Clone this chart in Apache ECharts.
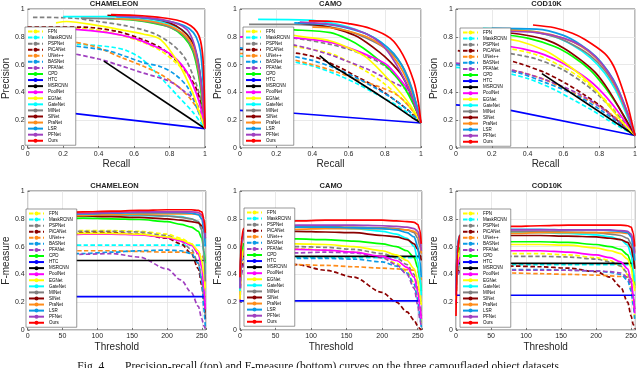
<!DOCTYPE html>
<html><head><meta charset="utf-8">
<script src="https://cdn.jsdelivr.net/npm/echarts@6/dist/echarts.min.js"></script>
<style>html,body{margin:0;padding:0;background:#fff}#c{width:640px;height:368px}</style>
</head><body><div id="c"></div>
<script>
const methods = ['FPN','MaskRCNN','PSPNet','PiCANet','UNet++','BASNet','PFANet','CPD','HTC','MSRCNN','PoolNet','EGNet','GateNet','MINet','SINet','PraNet','LSR','PFNet','Ours'];
const colors = ['#ffff00','#00ffff','#808080','#8b0000','#ff8c1a','#0a9ae6','#a040c0','#00ff00','#0000ff','#000000','#ff00ff','#ffff00','#00ffff','#808080','#8b0000','#ff8c1a','#0a9ae6','#a040c0','#ff0000'];
const dashed = [true,true,true,true,true,true,true,false,false,false,false,false,false,false,false,false,false,false,false];
const straight = [false,false,false,false,false,false,false,false,true,true,false,false,false,false,false,false,false,false,false];
const datasets = ['CHAMELEON','CAMO','COD10K'];
const unitTicks = [0,0.2,0.4,0.6,0.8,1];
const thresholdTicks = [0,50,100,150,200,250];
const thresholds = [0,2,5,15,40,80,120,160,200,220,235,245,250,253,255];

const prChameleon = [
 [[0.15,0.86],[0.3,0.86],[0.5,0.82],[0.65,0.76],[0.75,0.7],[0.83,0.62],[0.9,0.53],[0.95,0.42],[0.98,0.3],[1,0.14]],
 [[0,0.75],[0.3,0.745],[0.48,0.725],[0.56,0.7],[0.64,0.645],[0.71,0.56],[0.77,0.48],[0.85,0.37],[0.93,0.26],[1,0.14]],
 [[0.03,0.94],[0.25,0.935],[0.4,0.91],[0.55,0.88],[0.7,0.83],[0.8,0.76],[0.88,0.66],[0.93,0.53],[0.97,0.38],[1,0.14]],
 [[0,0.87],[0.3,0.87],[0.5,0.84],[0.65,0.78],[0.75,0.72],[0.83,0.64],[0.9,0.54],[0.95,0.43],[0.98,0.3],[1,0.14]],
 [[0,0.78],[0.25,0.765],[0.4,0.72],[0.53,0.65],[0.65,0.59],[0.75,0.53],[0.85,0.44],[0.92,0.35],[0.97,0.25],[1,0.14]],
 [[0,0.75],[0.25,0.735],[0.45,0.7],[0.55,0.66],[0.65,0.615],[0.75,0.585],[0.83,0.53],[0.9,0.44],[0.95,0.3],[1,0.14]],
 [[0,0.71],[0.2,0.69],[0.4,0.64],[0.53,0.59],[0.65,0.54],[0.8,0.48],[0.88,0.41],[0.95,0.33],[1,0.14]],
 [[0.45,0.93],[0.6,0.92],[0.7,0.9],[0.8,0.87],[0.88,0.8],[0.93,0.7],[0.96,0.55],[0.98,0.38],[1,0.14]],
 [[0.05,0.28],[1,0.14]],
 [[0.43,0.625],[1,0.14]],
 [[0.05,0.86],[0.25,0.855],[0.45,0.83],[0.6,0.79],[0.7,0.74],[0.8,0.68],[0.88,0.58],[0.93,0.46],[0.97,0.32],[1,0.14]],
 [[0.16,0.9],[0.22,0.91],[0.4,0.88],[0.53,0.85],[0.65,0.82],[0.75,0.78],[0.85,0.61],[0.93,0.4],[0.97,0.25],[1,0.14]],
 [[0.2,0.945],[0.48,0.945],[0.6,0.93],[0.7,0.915],[0.8,0.89],[0.88,0.84],[0.93,0.76],[0.96,0.64],[0.98,0.45],[1,0.14]],
 [[0.3,0.935],[0.5,0.93],[0.65,0.915],[0.75,0.89],[0.85,0.84],[0.9,0.78],[0.94,0.68],[0.97,0.5],[0.99,0.3],[1,0.14]],
 [[0.45,0.955],[0.6,0.945],[0.7,0.93],[0.8,0.9],[0.87,0.85],[0.92,0.78],[0.95,0.68],[0.975,0.5],[0.99,0.3],[1,0.14]],
 [[0.49,0.93],[0.6,0.925],[0.7,0.91],[0.8,0.88],[0.87,0.83],[0.92,0.76],[0.95,0.66],[0.975,0.48],[0.99,0.3],[1,0.14]],
 [[0.5,0.945],[0.65,0.935],[0.75,0.92],[0.85,0.895],[0.91,0.86],[0.95,0.8],[0.975,0.69],[0.99,0.45],[1,0.14]],
 [[0.5,0.95],[0.65,0.94],[0.75,0.925],[0.85,0.89],[0.9,0.85],[0.93,0.78],[0.95,0.69],[0.97,0.55],[0.99,0.32],[1,0.14]],
 [[0.47,0.96],[0.6,0.955],[0.7,0.945],[0.8,0.93],[0.87,0.91],[0.92,0.88],[0.955,0.835],[0.975,0.77],[0.988,0.65],[0.995,0.45],[1,0.14]]
];
const prCamo = [
 [[0.1,0.76],[0.3,0.73],[0.5,0.68],[0.6,0.62],[0.7,0.55],[0.8,0.46],[0.88,0.37],[0.94,0.29],[1,0.18]],
 [[0,0.66],[0.2,0.64],[0.4,0.59],[0.55,0.52],[0.65,0.46],[0.75,0.39],[0.85,0.32],[0.93,0.25],[1,0.18]],
 [[0.1,0.8],[0.3,0.79],[0.5,0.745],[0.6,0.71],[0.7,0.66],[0.8,0.59],[0.88,0.49],[0.94,0.37],[1,0.18]],
 [[0,0.71],[0.2,0.7],[0.4,0.66],[0.55,0.58],[0.65,0.51],[0.75,0.44],[0.85,0.35],[0.93,0.27],[1,0.18]],
 [[0,0.68],[0.2,0.66],[0.4,0.6],[0.55,0.54],[0.65,0.49],[0.75,0.45],[0.87,0.38],[0.94,0.29],[1,0.18]],
 [[0,0.72],[0.2,0.68],[0.4,0.63],[0.55,0.56],[0.65,0.5],[0.75,0.43],[0.85,0.35],[0.93,0.27],[1,0.18]],
 [[0.1,0.77],[0.3,0.74],[0.5,0.67],[0.6,0.62],[0.7,0.57],[0.77,0.525],[0.85,0.47],[0.92,0.42],[0.96,0.34],[1,0.18]],
 [[0.1,0.86],[0.3,0.85],[0.5,0.83],[0.6,0.78],[0.68,0.72],[0.76,0.64],[0.83,0.56],[0.9,0.45],[0.96,0.31],[1,0.18]],
 [[0,0.27],[0.3,0.25],[1,0.18]],
 [[0.44,0.665],[0.5,0.6],[0.6,0.52],[0.74,0.405],[0.85,0.31],[0.95,0.22],[1,0.18]],
 [[0,0.8],[0.2,0.8],[0.4,0.78],[0.5,0.76],[0.6,0.72],[0.7,0.67],[0.81,0.6],[0.88,0.5],[0.96,0.36],[1,0.18]],
 [[0.2,0.83],[0.35,0.8],[0.5,0.77],[0.6,0.72],[0.7,0.65],[0.83,0.48],[0.94,0.31],[1,0.18]],
 [[0.1,0.925],[0.38,0.92],[0.5,0.9],[0.6,0.87],[0.7,0.82],[0.78,0.76],[0.85,0.67],[0.9,0.58],[0.95,0.42],[1,0.18]],
 [[0.05,0.89],[0.3,0.89],[0.5,0.87],[0.6,0.84],[0.7,0.79],[0.8,0.72],[0.87,0.64],[0.91,0.56],[0.95,0.43],[1,0.18]],
 [[0.32,0.9],[0.45,0.88],[0.55,0.85],[0.65,0.8],[0.77,0.69],[0.83,0.62],[0.89,0.53],[0.94,0.4],[1,0.18]],
 [[0.4,0.87],[0.5,0.865],[0.6,0.84],[0.7,0.8],[0.78,0.74],[0.85,0.65],[0.9,0.55],[0.95,0.4],[1,0.18]],
 [[0.3,0.9],[0.5,0.885],[0.6,0.86],[0.7,0.82],[0.78,0.76],[0.85,0.68],[0.9,0.58],[0.95,0.42],[1,0.18]],
 [[0.33,0.905],[0.5,0.89],[0.6,0.865],[0.7,0.82],[0.78,0.75],[0.84,0.65],[0.89,0.54],[0.94,0.4],[1,0.18]],
 [[0.38,0.915],[0.5,0.912],[0.6,0.895],[0.72,0.86],[0.83,0.79],[0.9,0.67],[0.96,0.48],[0.985,0.33],[1,0.18]]
];
const prCod = [
 [[0.2,0.73],[0.3,0.715],[0.45,0.67],[0.6,0.58],[0.7,0.5],[0.8,0.39],[0.88,0.28],[0.94,0.18],[1,0.09]],
 [[0,0.58],[0.2,0.56],[0.4,0.5],[0.55,0.42],[0.65,0.35],[0.75,0.28],[0.85,0.2],[0.93,0.14],[1,0.09]],
 [[0.15,0.7],[0.3,0.68],[0.45,0.64],[0.6,0.56],[0.72,0.46],[0.82,0.35],[0.9,0.24],[0.95,0.17],[1,0.09]],
 [[0.01,0.7],[0.2,0.66],[0.35,0.61],[0.5,0.54],[0.62,0.46],[0.72,0.38],[0.82,0.29],[0.9,0.2],[1,0.09]],
 [[0.2,0.58],[0.35,0.55],[0.5,0.49],[0.6,0.43],[0.7,0.37],[0.8,0.3],[0.9,0.21],[1,0.09]],
 [[0,0.6],[0.2,0.57],[0.35,0.54],[0.5,0.47],[0.6,0.42],[0.7,0.36],[0.8,0.28],[0.9,0.19],[1,0.09]],
 [[0,0.61],[0.2,0.58],[0.35,0.55],[0.5,0.49],[0.6,0.44],[0.7,0.38],[0.8,0.3],[0.9,0.2],[1,0.09]],
 [[0.25,0.82],[0.4,0.79],[0.55,0.73],[0.65,0.66],[0.75,0.56],[0.83,0.44],[0.9,0.31],[0.95,0.2],[1,0.09]],
 [[0,0.31],[0.25,0.285],[1,0.09]],
 [[0.48,0.535],[1,0.09]],
 [[0.2,0.735],[0.3,0.73],[0.45,0.69],[0.55,0.64],[0.65,0.57],[0.75,0.48],[0.83,0.38],[0.9,0.27],[0.95,0.18],[1,0.09]],
 [[0.2,0.8],[0.35,0.77],[0.5,0.7],[0.6,0.62],[0.7,0.52],[0.78,0.42],[0.85,0.31],[0.92,0.2],[1,0.09]],
 [[0.15,0.86],[0.4,0.845],[0.55,0.8],[0.65,0.74],[0.75,0.65],[0.83,0.54],[0.89,0.42],[0.94,0.28],[1,0.09]],
 [[0.12,0.855],[0.4,0.84],[0.55,0.8],[0.65,0.745],[0.75,0.665],[0.83,0.56],[0.89,0.44],[0.94,0.3],[1,0.09]],
 [[0.15,0.84],[0.35,0.82],[0.5,0.78],[0.6,0.72],[0.7,0.63],[0.78,0.54],[0.85,0.42],[0.92,0.27],[1,0.09]],
 [[0.3,0.85],[0.45,0.835],[0.6,0.79],[0.7,0.73],[0.78,0.65],[0.85,0.54],[0.9,0.42],[0.95,0.27],[1,0.09]],
 [[0.2,0.86],[0.45,0.855],[0.6,0.81],[0.7,0.74],[0.78,0.66],[0.85,0.55],[0.9,0.44],[0.95,0.28],[1,0.09]],
 [[0.25,0.84],[0.45,0.83],[0.6,0.79],[0.7,0.735],[0.78,0.655],[0.85,0.545],[0.9,0.43],[0.95,0.28],[1,0.09]],
 [[0.43,0.885],[0.55,0.865],[0.65,0.825],[0.72,0.78],[0.83,0.68],[0.88,0.59],[0.92,0.46],[0.96,0.3],[0.985,0.17],[1,0.09]]
];

// F-measure values at the thresholds above
const fmChameleon = [
 [.22,.60,.67,.70,.71,.715,.715,.71,.69,.66,.62,.55,.45,.32,.22],
 [.61,.61,.61,.61,.61,.61,.61,.61,.61,.61,.61,.61,.61,.61,.61],
 [.25,.60,.66,.69,.70,.71,.71,.705,.68,.64,.58,.48,.36,.22,.10],
 [.20,.58,.65,.68,.695,.70,.70,.69,.66,.62,.55,.44,.32,.20,.08],
 [.50,.55,.565,.57,.57,.57,.57,.565,.56,.56,.555,.55,.54,.51,.45],
 [.45,.52,.535,.54,.545,.55,.56,.57,.575,.57,.55,.48,.35,.15,.02],
 [.35,.47,.50,.52,.535,.545,.55,.525,.44,.36,.27,.17,.08,.03,.01],
 [.22,.70,.77,.79,.80,.805,.80,.795,.78,.76,.74,.71,.66,.57,.48],
 [.24,.24,.24,.24,.24,.24,.24,.24,.24,.24,.24,.24,.24,.24,.24],
 [.50,.50,.50,.50,.50,.50,.50,.50,.50,.50,.50,.50,.50,.50,.50],
 [.20,.58,.64,.67,.68,.69,.69,.685,.665,.64,.61,.55,.45,.30,.15],
 [.20,.60,.66,.68,.69,.695,.695,.69,.67,.65,.62,.57,.50,.40,.30],
 [.25,.72,.78,.80,.815,.82,.825,.825,.82,.815,.80,.78,.72,.55,.40],
 [.22,.70,.78,.81,.82,.825,.83,.83,.82,.81,.80,.78,.72,.55,.35],
 [.28,.72,.78,.80,.81,.82,.815,.81,.80,.79,.78,.77,.75,.72,.66],
 [.30,.70,.77,.80,.815,.825,.83,.835,.835,.835,.835,.83,.82,.79,.72],
 [.25,.72,.79,.815,.83,.835,.84,.845,.845,.845,.84,.83,.80,.72,.60],
 [.25,.70,.79,.82,.835,.84,.845,.85,.85,.85,.85,.845,.83,.77,.66],
 [.18,.65,.80,.83,.845,.85,.855,.86,.865,.865,.865,.86,.85,.80,.70]
];
const fmCamo = [
 [.22,.48,.55,.58,.59,.585,.575,.56,.52,.48,.42,.34,.24,.14,.05],
 [.52,.52,.52,.52,.52,.52,.52,.52,.52,.52,.52,.52,.52,.52,.52],
 [.25,.52,.58,.60,.605,.60,.595,.58,.55,.52,.47,.40,.30,.20,.10],
 [.35,.45,.49,.505,.50,.47,.43,.38,.27,.20,.13,.07,.03,.01,.00],
 [.38,.46,.48,.485,.48,.47,.465,.455,.445,.44,.435,.43,.42,.40,.36],
 [.40,.50,.51,.515,.515,.515,.515,.51,.49,.46,.41,.33,.22,.10,.02],
 [.20,.40,.47,.51,.54,.555,.56,.555,.52,.47,.40,.30,.18,.08,.02],
 [.25,.55,.62,.645,.655,.655,.65,.64,.62,.60,.57,.52,.45,.36,.28],
 [.21,.21,.21,.21,.21,.21,.21,.21,.21,.21,.21,.21,.21,.21,.21],
 [.53,.53,.53,.53,.53,.53,.53,.53,.53,.53,.53,.53,.53,.53,.53],
 [.22,.50,.56,.58,.585,.58,.575,.56,.53,.50,.45,.38,.28,.17,.08],
 [.22,.50,.58,.61,.62,.62,.615,.60,.57,.54,.50,.44,.36,.26,.18],
 [.28,.62,.69,.72,.735,.74,.74,.73,.71,.69,.66,.60,.50,.38,.25],
 [.30,.62,.70,.725,.74,.745,.745,.74,.735,.73,.72,.70,.66,.60,.55],
 [.35,.62,.68,.70,.71,.71,.705,.70,.68,.67,.65,.62,.58,.54,.50],
 [.32,.60,.68,.71,.72,.725,.73,.73,.73,.725,.72,.71,.69,.64,.55],
 [.30,.63,.70,.725,.735,.74,.74,.735,.73,.72,.70,.67,.60,.50,.38],
 [.30,.62,.70,.73,.745,.755,.755,.755,.75,.745,.74,.73,.71,.66,.57],
 [.38,.65,.73,.76,.775,.785,.79,.79,.79,.785,.78,.775,.76,.72,.62]
];
const fmCod = [
 [.18,.42,.49,.52,.54,.55,.55,.54,.52,.50,.46,.40,.30,.18,.08],
 [.47,.47,.47,.47,.47,.47,.47,.47,.47,.47,.47,.47,.47,.47,.47],
 [.18,.42,.48,.51,.525,.53,.53,.525,.51,.49,.46,.41,.34,.24,.15],
 [.30,.40,.44,.455,.46,.46,.455,.445,.42,.38,.31,.20,.10,.04,.01],
 [.30,.40,.42,.42,.415,.41,.405,.40,.395,.39,.385,.38,.37,.35,.30],
 [.30,.40,.42,.43,.435,.435,.435,.43,.425,.415,.40,.36,.28,.18,.08],
 [.30,.40,.42,.425,.43,.43,.43,.43,.425,.42,.41,.38,.32,.24,.15],
 [.25,.52,.59,.62,.63,.635,.635,.63,.615,.60,.58,.54,.48,.40,.32],
 [.25,.25,.25,.25,.25,.25,.25,.25,.25,.25,.25,.25,.25,.25,.25],
 [.48,.48,.48,.48,.48,.48,.48,.48,.48,.48,.48,.48,.48,.48,.48],
 [.20,.46,.52,.55,.56,.57,.57,.56,.54,.52,.49,.44,.36,.24,.12],
 [.22,.50,.57,.60,.61,.615,.615,.61,.59,.57,.55,.51,.45,.36,.28],
 [.25,.58,.66,.685,.695,.70,.70,.695,.685,.67,.65,.61,.54,.44,.35],
 [.25,.60,.67,.695,.705,.71,.71,.705,.70,.69,.68,.66,.62,.55,.45],
 [.35,.60,.65,.67,.675,.68,.68,.675,.67,.66,.65,.63,.59,.52,.44],
 [.30,.58,.65,.68,.69,.695,.70,.70,.70,.70,.70,.695,.68,.64,.56],
 [.30,.62,.68,.71,.72,.725,.725,.72,.72,.715,.71,.70,.67,.60,.50],
 [.25,.60,.67,.70,.71,.72,.72,.72,.72,.72,.715,.71,.69,.64,.55],
 [.10,.55,.68,.72,.735,.745,.75,.755,.755,.755,.755,.75,.74,.70,.60]
];

const prSets = [prChameleon, prCamo, prCod];
const fmSets = [fmChameleon, fmCamo, fmCod];

const grids = [
 {left:23, top:9, width:182, height:139},
 {left:240, top:9, width:181, height:139},
 {left:456, top:9, width:181, height:139},
 {left:23, top:191, width:183, height:139},
 {left:240, top:191, width:182, height:139},
 {left:456, top:191, width:182, height:139}
];
const legendPos = [[25,27],[243,27],[460,28],[26,209],[244,208],[460,209]];
const FONT = 'Liberation Sans, Arial, sans-serif';
const TXT = '#262626';

const chart = echarts.init(document.getElementById('c'), null, {renderer:'canvas'});
const xAxes = [], yAxes = [], series = [], graphics = [];
grids.forEach((g, k) => {
  const top = k < 3;
  xAxes.push({
    type:'value', gridIndex:k, min:0, max: top ? 1 : 256, interval: top ? 0.2 : 50,
    name: top ? 'Recall' : 'Threshold', nameLocation:'middle', nameGap: top ? 10 : 12,
    nameTextStyle:{fontSize:10, color:TXT, fontFamily:FONT},
    axisLine:{show:false}, axisTick:{show:true, inside:true, length:2, lineStyle:{color:TXT, width:0.6}},
    axisLabel:{fontSize:7, color:TXT, margin:3, fontFamily:FONT,
      formatter: v => top ? (unitTicks.includes(+v.toFixed(2)) ? String(+v.toFixed(2)) : '') : (thresholdTicks.includes(v) ? String(v) : '')},
    splitLine:{show:true, lineStyle:{color:'#e3e3e3', width:0.8}}
  });
  yAxes.push({
    type:'value', gridIndex:k, min:0, max:1, interval:0.2,
    name: top ? 'Precision' : 'F-measure', nameLocation:'middle', nameGap:14,
    nameTextStyle:{fontSize:10, color:TXT, fontFamily:FONT},
    axisLine:{show:false}, axisTick:{show:true, inside:true, length:2, lineStyle:{color:TXT, width:0.6}},
    axisLabel:{fontSize:7, color:TXT, margin:3, fontFamily:FONT, formatter: v => String(+v.toFixed(2))},
    splitLine:{show:true, lineStyle:{color:'#e3e3e3', width:0.8}}
  });
  graphics.push({type:'text', x: g.left + g.width/2, y: g.top - 9,
    style:{text: datasets[k % 3], fill:TXT, font:'bold 7.5px ' + FONT, textAlign:'center', align:'center', textVerticalAlign:'top', verticalAlign:'top'}});
});

function lineStyleFor(i){ return {color: colors[i], width: 1.7, type: dashed[i] ? [4.5,2.5] : 'solid'}; }
for (let p = 0; p < 3; p++) {
  methods.forEach((m, i) => series.push({
    type:'line', name:m, xAxisIndex:p, yAxisIndex:p, data: prSets[p][i],
    symbol:'none', smooth: straight[i] ? false : 0.3, lineStyle: lineStyleFor(i), itemStyle:{color:colors[i]}
  }));
}
for (let p = 0; p < 3; p++) {
  methods.forEach((m, i) => series.push({
    type:'line', name:m, xAxisIndex:p+3, yAxisIndex:p+3,
    data: thresholds.map((t, k) => [t, fmSets[p][i][k]]),
    symbol:'none', smooth: straight[i] ? false : 0.3, smoothMonotone:'x', lineStyle: lineStyleFor(i), itemStyle:{color:colors[i]}
  }));
}

const capFont = '11.5px Liberation Serif, Times New Roman, serif';
graphics.push({type:'text', x:107, y:361, style:{text:'Fig. 4.', fill:'#111', font:capFont, textAlign:'right', align:'right', textVerticalAlign:'top', verticalAlign:'top'}});
graphics.push({type:'text', x:125, y:361, style:{text:'Precision-recall (top) and F-measure (bottom) curves on the three camouflaged object datasets.', fill:'#111', font:capFont, textAlign:'left', align:'left', textVerticalAlign:'top', verticalAlign:'top'}});

chart.setOption({
  animation:false,
  backgroundColor:'#fff',
  textStyle:{fontFamily:FONT},
  grid: grids.map(g => Object.assign({show:true, borderColor:TXT, borderWidth:0.7, backgroundColor:'transparent'}, g)),
  xAxis: xAxes, yAxis: yAxes,
  legend: legendPos.map(p => ({
    data: methods, orient:'vertical', left:p[0], top:p[1], itemWidth:15, itemHeight:5, itemGap:1.07,
    padding:[2,4,2,2], backgroundColor:'#fff', borderColor:'#555', borderWidth:0.6, selectedMode:false,
    textStyle:{fontSize:4.5, lineHeight:5, color:'#000', fontFamily:FONT}
  })),
  series: series,
  graphic: graphics
});
</script></body></html>
